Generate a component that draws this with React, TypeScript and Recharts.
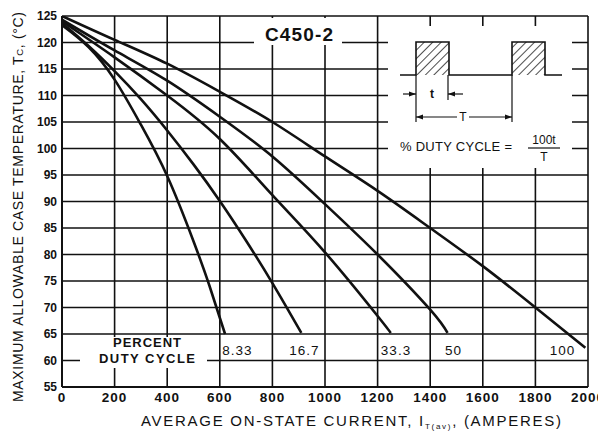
import React from 'react'
import { LineChart, Line, XAxis, YAxis, CartesianGrid } from 'recharts'

// axis ticks
const xTicks = [0, 200, 400, 600, 800, 1000, 1200, 1400, 1600, 1800, 2000]
const yTicks = [55, 60, 65, 70, 75, 80, 85, 90, 95, 100, 105, 110, 115, 120, 125]

// curves (current in A, case temp in °C)
const cur833 = [0, 100, 200, 300, 400, 500, 560, 620]
const temp833 = [123.3, 119.2, 113, 104.5, 94.8, 82.5, 74.2, 65]

const cur167 = [0, 100, 200, 300, 400, 500, 600, 700, 800, 910]
const temp167 = [123.7, 119.4, 114.6, 109.3, 103.4, 97, 90.1, 82.6, 74.6, 65.2]

const cur333 = [0, 200, 400, 600, 800, 1000, 1200, 1250]
const temp333 = [124, 117.2, 110, 101.8, 91.2, 80.4, 68.4, 65.2]

const cur50 = [0, 200, 400, 600, 800, 1000, 1200, 1400, 1466]
const temp50 = [124.3, 118.5, 112.8, 106, 98.5, 89.5, 80, 69.6, 65.2]

const cur100 = [0, 200, 400, 600, 800, 1000, 1200, 1400, 1600, 1800, 1990]
const temp100 = [125, 120.5, 116, 110.7, 105, 98.5, 92, 85, 77.8, 70, 62.4]

// duty cycle labels along the bottom
const dutyLabels = ['8.33', '16.7', '33.3', '50', '100']
const dutyLabelX = [667, 922, 1270, 1489, 1903]

const toPoints = (xs: number[], ys: number[]) => xs.map((x, i) => ({ x, y: ys[i] }))

const series = [
  toPoints(cur833, temp833),
  toPoints(cur167, temp167),
  toPoints(cur333, temp333),
  toPoints(cur50, temp50),
  toPoints(cur100, temp100),
]

const W = 598
const H = 424
const Y_W = 54
const X_H = 45
const margin = { top: 8, right: 18, left: 0, bottom: 0 }
const font = '"Liberation Sans", Arial, Helvetica, sans-serif'

const plotL = margin.left + Y_W
const plotR = W - margin.right
const plotT = margin.top
const plotB = H - X_H
const sx = (v: number) => plotL + (v / 2000) * (plotR - plotL)
const sy = (v: number) => plotT + ((125 - v) / 70) * (plotB - plotT)

function Overlay() {
  const arrow = (x: number, y: number, dir: number) => (
    <path d={`M${x},${y} L${x - dir * 7},${y - 2.5} L${x - dir * 7},${y + 2.5} Z`} fill="#111" />
  )
  return (
    <svg
      width={W}
      height={H}
      style={{ position: 'absolute', left: 0, top: 0, pointerEvents: 'none', overflow: 'visible' }}
      fontFamily={font}
    >
      <defs>
        <pattern id="hatch" width="6" height="6" patternUnits="userSpaceOnUse" patternTransform="rotate(45)">
          <line x1="0" y1="0" x2="0" y2="6" stroke="#111" strokeWidth="1.5" />
        </pattern>
      </defs>

      {/* axis titles */}
      <text
        transform={`translate(15, 199) rotate(-90)`}
        textAnchor="middle"
        fontSize={14}
        fill="#111"
        textLength={390}
        lengthAdjust="spacing"
      >
        MAXIMUM ALLOWABLE CASE TEMPERATURE, T<tspan fontSize={9.5}>C</tspan>, (°C)
      </text>
      <text x={343} y={418} textAnchor="middle" fontSize={15} fill="#111" textLength={420} lengthAdjust="spacing">
        AVERAGE ON-STATE CURRENT, I<tspan fontSize={8} dy={3}>T(av)</tspan>
        <tspan dy={-3}>, (AMPERES)</tspan>
      </text>

      {/* part number */}
      <rect x={246} y={10} width={88} height={27} fill="#fff" />
      <text x={291} y={33} textAnchor="middle" fontSize={19} fontWeight="bold" fill="#111" textLength={68} lengthAdjust="spacing">
        C450-2
      </text>

      {/* duty cycle inset */}
      <rect x={380} y={18} width={184} height={142} fill="#fff" />
      <rect x={408} y={34} width={33} height={33} fill="url(#hatch)" />
      <rect x={504} y={34} width={33} height={33} fill="url(#hatch)" />
      <polyline
        points="392,67 408,67 408,34 441,34 441,67 504,67 504,34 537,34 537,67 554,67"
        fill="none"
        stroke="#111"
        strokeWidth={1.6}
      />
      <line x1={408} y1={67} x2={408} y2={114} stroke="#111" strokeWidth={1.2} />
      <line x1={440} y1={67} x2={440} y2={92} stroke="#111" strokeWidth={1.2} />
      <line x1={504} y1={67} x2={504} y2={114} stroke="#111" strokeWidth={1.2} />
      <line x1={395} y1={86} x2={408} y2={86} stroke="#111" strokeWidth={1.2} />
      {arrow(408, 86, 1)}
      <line x1={440} y1={86} x2={455} y2={86} stroke="#111" strokeWidth={1.2} />
      {arrow(440, 86, -1)}
      <text x={424} y={90} textAnchor="middle" fontSize={12} fontWeight="bold" fill="#111">t</text>
      <line x1={408} y1={109} x2={449} y2={109} stroke="#111" strokeWidth={1.2} />
      <line x1={461} y1={109} x2={504} y2={109} stroke="#111" strokeWidth={1.2} />
      {arrow(408, 109, -1)}
      {arrow(504, 109, 1)}
      <text x={455} y={113} textAnchor="middle" fontSize={12} fill="#111">T</text>
      <text x={392} y={143} fontSize={13} fill="#111" textLength={112} lengthAdjust="spacing">
        % DUTY CYCLE =
      </text>
      <text x={536} y={136} textAnchor="middle" fontSize={12} fill="#111">100t</text>
      <line x1={520} y1={140} x2={552} y2={140} stroke="#111" strokeWidth={1.2} />
      <text x={536} y={153} textAnchor="middle" fontSize={12} fill="#111">T</text>

      {/* bottom legend */}
      <rect x={72} y={329} width={127} height={31} fill="#fff" />
      <text x={139} y={339} textAnchor="middle" fontSize={13} fontWeight="bold" fill="#111" textLength={68} lengthAdjust="spacing">
        PERCENT
      </text>
      <text x={139} y={355} textAnchor="middle" fontSize={13} fontWeight="bold" fill="#111" textLength={96} lengthAdjust="spacing">
        DUTY CYCLE
      </text>
      {dutyLabels.map((l, i) => (
        <text
          key={l}
          x={sx(dutyLabelX[i])}
          y={sy(61)}
          textAnchor="middle"
          fontSize={13.5}
          fill="#111"
          letterSpacing={1}
        >
          {l}
        </text>
      ))}
    </svg>
  )
}

export default function App() {
  return (
    <div style={{ position: 'relative', width: W, height: H, background: '#fff' }}>
      <LineChart width={W} height={H} margin={margin}>
        <CartesianGrid stroke="#111" strokeWidth={1.6} horizontalValues={yTicks} verticalValues={xTicks} />
        <XAxis
          type="number"
          dataKey="x"
          domain={[0, 2000]}
          ticks={xTicks}
          interval={0}
          height={X_H}
          tickSize={0}
          tickMargin={5}
          axisLine={{ stroke: '#111', strokeWidth: 2 }}
          tick={{ fontSize: 13.5, fill: '#111', fontFamily: font, fontWeight: 'bold', letterSpacing: 1 }}
          allowDataOverflow
        />
        <YAxis
          type="number"
          domain={[55, 125]}
          ticks={yTicks}
          interval={0}
          width={Y_W}
          tickSize={0}
          tickMargin={5}
          axisLine={{ stroke: '#111', strokeWidth: 2 }}
          tick={{ fontSize: 12, fill: '#111', fontFamily: font, fontWeight: 'bold' }}
          allowDataOverflow
        />
        {series.map((d, i) => (
          <Line
            key={i}
            data={d}
            dataKey="y"
            type="natural"
            stroke="#111"
            strokeWidth={2.6}
            dot={false}
            isAnimationActive={false}
          />
        ))}
      </LineChart>
      <Overlay />
    </div>
  )
}
